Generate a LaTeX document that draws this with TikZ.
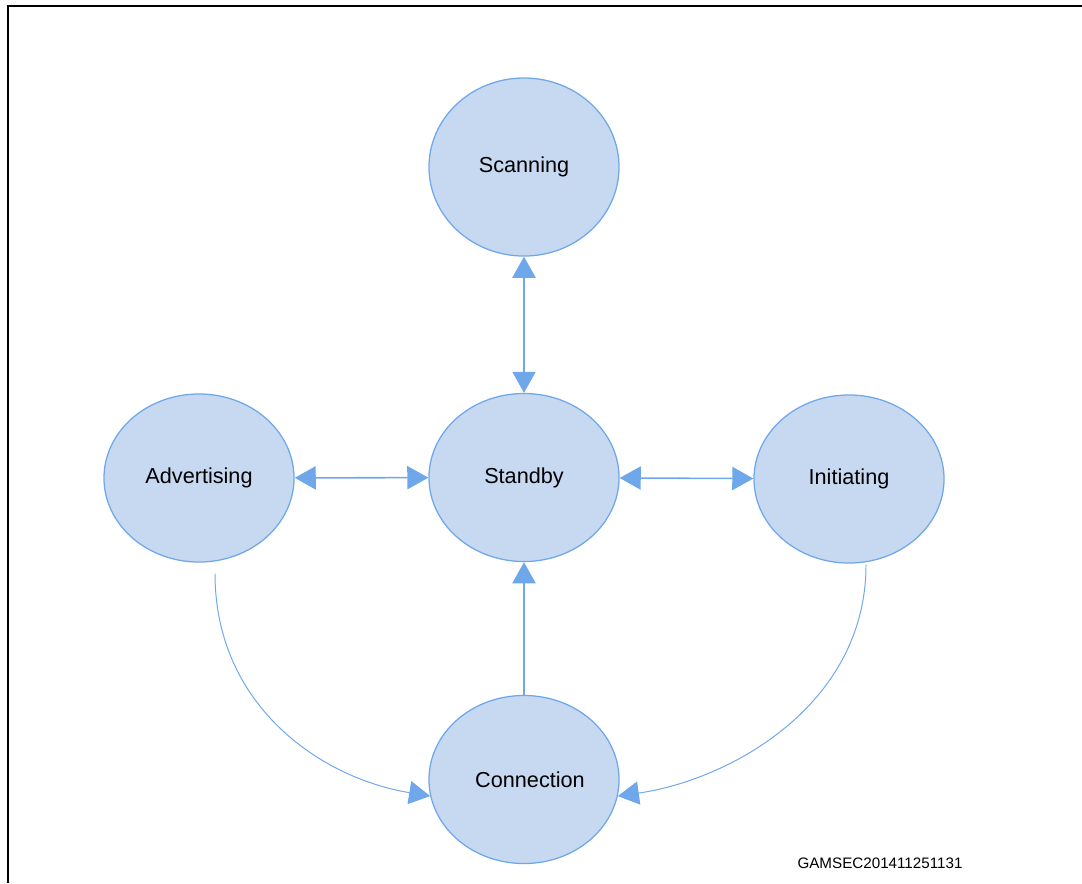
\documentclass[tikz,border=0pt]{standalone}
\usepackage{fontspec}
\setmainfont{Liberation Sans}
\usetikzlibrary{shapes.geometric,arrows.meta}
\definecolor{stateline}{RGB}{111,168,234}
\definecolor{statefill}{RGB}{198,217,241}
\tikzset{
	state/.style={ellipse,draw=stateline,fill=statefill,line width=0.9pt,inner sep=0pt,
		minimum width=4.75cm,minimum height=4.2cm,font=\fontsize{15.4}{18}\selectfont},
	link/.style={stateline,line width=1.1pt,-{Triangle[length=15pt,width=16.5pt]}},
	bilink/.style={link,{Triangle[length=15pt,width=16.5pt]}-{Triangle[length=15pt,width=16.5pt]}},
	curvelink/.style={link,line width=0.7pt}
}
\begin{document}
\begin{tikzpicture}[x=0.025cm,y=-0.025cm]
			\useasboundingbox (0,0) rectangle (1082,883);
			\draw[line width=1.4pt] (1082,6) -- (8,6) -- (8,883);
			\node[state,minimum height=4.45cm] (scan) at (524,167){Scanning};
			\node[state] (standby) at (524,477.5){Standby};
			\node[state] (adv) at (199,478){Advertising};
			\node[state] (init) at (849,479){Initiating};
			\node[state] (conn) at (524,779.5){\hspace{8.5pt}Connection};
			\draw[bilink] (scan) -- (standby);
			\draw[bilink] (adv) -- (standby);
			\draw[bilink] (standby) -- (init);
			\draw[link] (conn) -- (standby);
			\draw[curvelink] ([shift={(16,11)}]adv.south) .. controls (215,705) and (320,778) .. (conn.190);
			\draw[curvelink] ([shift={(17,1)}]init.south) .. controls (866,705) and (730,780) .. (conn.-10);
			\node[font=\fontsize{10.8}{13}\selectfont] (code) at (880,863){GAMSEC201411251131};
		\end{tikzpicture}
\end{document}
